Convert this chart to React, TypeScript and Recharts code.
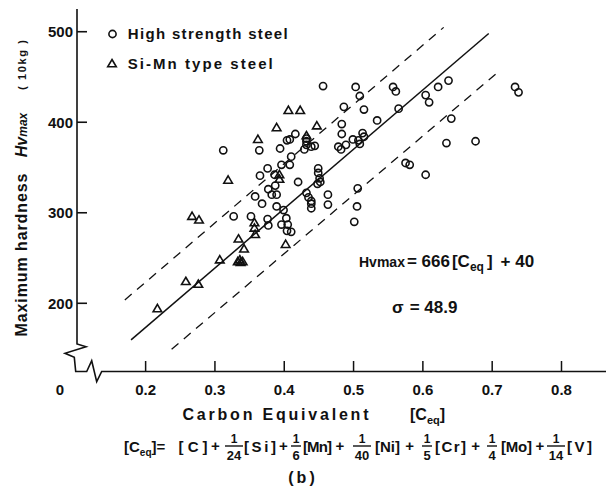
import React from 'react';
import { ScatterChart, Scatter, XAxis, YAxis } from 'recharts';

// tick values
const xTicks = [0.2, 0.3, 0.4, 0.5, 0.6, 0.7, 0.8];
const yTicks = [200, 300, 400, 500];

// High strength steel (circles)
const highCeq = [
  0.456, 0.503, 0.509, 0.557, 0.561, 0.515, 0.486, 0.534, 0.565, 0.604, 0.609, 0.622, 0.637, 0.641,
  0.733, 0.738, 0.634, 0.676, 0.575, 0.581, 0.604, 0.506, 0.505, 0.501, 0.463, 0.463,
  0.483, 0.483, 0.478, 0.482, 0.489, 0.499, 0.507, 0.509, 0.513, 0.515,
  0.432, 0.432, 0.432, 0.429, 0.439, 0.444,
  0.416, 0.408, 0.404, 0.394, 0.41, 0.408, 0.396, 0.364, 0.312,
  0.376, 0.365, 0.386, 0.42,
  0.449, 0.449, 0.451, 0.452, 0.448,
  0.432, 0.435, 0.439, 0.439, 0.439,
  0.377, 0.387, 0.382, 0.389, 0.358, 0.368, 0.389, 0.399, 0.403, 0.405, 0.396, 0.404, 0.41,
  0.376, 0.377, 0.352, 0.327,
];
const highHv = [
  440, 439, 429, 439, 434, 414, 417, 402, 415, 430, 422, 439, 446, 404,
  439, 433, 377, 379, 355, 353, 342, 327, 307, 290, 320, 309,
  398, 387, 373, 370, 375, 381, 380, 376, 388, 384,
  382, 379, 375, 370, 373, 374,
  387, 381, 380, 371, 362, 353, 353, 369, 369,
  349, 341, 342, 334,
  349, 344, 338, 334, 332,
  322, 317, 313, 310, 305,
  326, 330, 320, 320, 318, 310, 307, 303, 294, 287, 287, 280, 279,
  293, 286, 296, 296,
];

// Si-Mn type steel (triangles)
const siMnCeq = [
  0.217, 0.258, 0.276, 0.267, 0.277, 0.307, 0.334, 0.342, 0.333, 0.337, 0.34, 0.336,
  0.357, 0.357, 0.358, 0.402, 0.319, 0.362, 0.389, 0.406, 0.423, 0.447, 0.393, 0.393, 0.432,
];
const siMnHv = [
  194, 224, 221, 296, 292, 248, 271, 260, 246, 245, 246, 248,
  289, 283, 276, 265, 336, 381, 394, 413, 413, 396, 342, 337, 385,
];

// regression line and +/- sigma band, end points
const fitCeq = [0.179, 0.695];
const fitHv = [159.6, 498];
const upperCeq = [0.17, 0.63];
const upperHv = [203.7, 504.8];
const lowerCeq = [0.2375, 0.709];
const lowerHv = [149.2, 455.8];

const zip = (xs: number[], ys: number[]) => xs.map((x, i) => ({ x, y: ys[i] }));

const FONT = "'Liberation Sans', Arial, sans-serif";
const INK = '#111';

const CircleMark = (p: any) => (
  <circle cx={p.cx} cy={p.cy} r={3.6} fill="none" stroke={INK} strokeWidth={1.6} />
);
const TriangleMark = (p: any) => (
  <path
    d={`M${p.cx},${p.cy - 4.3} L${p.cx + 4.3},${p.cy + 3} L${p.cx - 4.3},${p.cy + 3} Z`}
    fill="none"
    stroke={INK}
    strokeWidth={1.6}
  />
);
const NoMark = () => <g />;

const XTick = (props: any) => {
  const { x, y, payload } = props;
  return (
    <g>
      <line x1={x} x2={x} y1={y} y2={y - 10} stroke={INK} strokeWidth={1.5} />
      <text x={x} y={y + 24} textAnchor="middle" fontSize={15} fontFamily={FONT} fontWeight={700} fill={INK}>
        {payload.value.toFixed(1)}
      </text>
    </g>
  );
};

const YTick = (props: any) => {
  const { x, y, payload } = props;
  return (
    <g>
      <line x1={x} x2={x + 10} y1={y} y2={y} stroke={INK} strokeWidth={1.6} />
      <text x={x - 4} y={y + 5.5} textAnchor="end" fontSize={15} fontFamily={FONT} fontWeight={700} fill={INK}>
        {payload.value}
      </text>
    </g>
  );
};

const Frac = ({ cx, num, den }: { cx: number; num: string; den: string }) => (
  <g>
    <text x={cx} y={443} textAnchor="middle" fontSize={12}>{num}</text>
    <line x1={cx - (den.length > 1 ? 9 : 5)} x2={cx + (den.length > 1 ? 9 : 5)} y1={446} y2={446} stroke={INK} strokeWidth={1.4} />
    <text x={cx} y={460} textAnchor="middle" fontSize={13}>{den}</text>
  </g>
);

export default function App() {
  const high = zip(highCeq, highHv);
  const siMn = zip(siMnCeq, siMnHv);
  const fit = zip(fitCeq, fitHv);
  const upper = zip(upperCeq, upperHv);
  const lower = zip(lowerCeq, lowerHv);

  return (
    <div style={{ position: 'absolute', left: 0, top: 0, width: 609, height: 488, background: '#fff' }}>
      <ScatterChart width={609} height={488} margin={{ top: 9, right: 3, bottom: 87, left: 0 }}>
        <XAxis
          type="number"
          dataKey="x"
          domain={[0.101, 0.8642]}
          ticks={xTicks}
          interval={0}
          allowDataOverflow
          axisLine={false}
          tickLine={false}
          tickSize={0}
          tickMargin={0}
          height={30}
          tick={XTick}
        />
        <XAxis
          xAxisId="top"
          orientation="top"
          type="number"
          domain={[0.101, 0.8642]}
          height={0}
          tick={false}
          tickLine={false}
          axisLine={{ stroke: INK, strokeWidth: 1.4 }}
        />
        <YAxis
          type="number"
          dataKey="y"
          domain={[125.2, 525.1]}
          ticks={yTicks}
          interval={0}
          allowDataOverflow
          axisLine={false}
          tickLine={false}
          tickSize={0}
          tickMargin={0}
          width={77}
          tick={YTick}
        />
        <YAxis
          yAxisId="right"
          orientation="right"
          type="number"
          domain={[125.2, 525.1]}
          width={0}
          tick={false}
          tickLine={false}
          axisLine={{ stroke: INK, strokeWidth: 2 }}
        />
        <Scatter data={upper} shape={NoMark} line={{ stroke: INK, strokeWidth: 1.3, strokeDasharray: '9 7' }} isAnimationActive={false} />
        <Scatter data={lower} shape={NoMark} line={{ stroke: INK, strokeWidth: 1.3, strokeDasharray: '9 7' }} isAnimationActive={false} />
        <Scatter data={fit} shape={NoMark} line={{ stroke: INK, strokeWidth: 1.5 }} isAnimationActive={false} />
        <Scatter name="High strength steel" data={high} shape={CircleMark} isAnimationActive={false} />
        <Scatter name="Si-Mn type steel" data={siMn} shape={TriangleMark} isAnimationActive={false} />
      </ScatterChart>

      <svg
        width={609}
        height={488}
        style={{ position: 'absolute', left: 0, top: 0, pointerEvents: 'none' }}
        fontFamily={FONT}
        fontWeight={700}
        fill={INK}
      >
        {/* left and bottom frame with axis breaks */}
        <path
          d="M77,9 L77,344 L86,346.7 L65,353.3 L74.3,357.3 L75.7,371.5 L86.7,371.5 L91.7,360.7 L96.7,381.7 L101.7,371.5 L606,371.5"
          fill="none"
          stroke={INK}
          strokeWidth={1.6}
          strokeLinejoin="miter"
        />
        <text x={60} y={395} textAnchor="middle" fontSize={15}>0</text>

        {/* legend */}
        <circle cx={112.5} cy={34} r={3.6} fill="none" stroke={INK} strokeWidth={1.6} />
        <text x={127.7} y={39} fontSize={15} textLength={160} lengthAdjust="spacing">High strength steel</text>
        <path d="M112,59.5 L116.3,66.8 L107.7,66.8 Z" fill="none" stroke={INK} strokeWidth={1.6} />
        <text x={127.7} y={68.5} fontSize={15} textLength={145} lengthAdjust="spacing">Si-Mn type steel</text>

        {/* y axis title */}
        <g transform="translate(27,255) rotate(-90)">
          <text x={0} y={0} textAnchor="middle" fontSize={16} textLength={163} lengthAdjust="spacing">Maximum hardness</text>
        </g>
        <g transform="translate(27,135) rotate(-90)">
          <text x={0} y={0} textAnchor="middle" fontStyle="italic" fontSize={16}>
            Hv<tspan fontSize={12}>max</tspan>
          </text>
        </g>
        <g transform="translate(26,65) rotate(-90)">
          <text x={0} y={0} textAnchor="middle" fontSize={11} textLength={50} lengthAdjust="spacing">( 10kg )</text>
        </g>

        {/* x axis title */}
        <text x={182.5} y={420} fontSize={16} textLength={186} lengthAdjust="spacing">Carbon Equivalent</text>
        <text x={410} y={420} fontSize={16}>
          [C<tspan fontSize={11} dy={4}>eq</tspan><tspan dy={-4}>]</tspan>
        </text>

        {/* regression equation */}
        <text x={359} y={267} fontSize={14}>
          Hvmax<tspan fontSize={17} dx={2}>= 666</tspan>
          <tspan fontSize={17} dx={2}>[C</tspan>
          <tspan fontSize={12} dy={4}>eq</tspan>
          <tspan fontSize={17} dy={-4} dx={3}>]</tspan>
          <tspan fontSize={17} dx={8}>+ 40</tspan>
        </text>
        <text x={392} y={313} fontSize={17}>σ<tspan dx={6}>= 48.9</tspan></text>

        {/* carbon equivalent formula */}
        <g fontSize={15}>
          <text x={124} y={452}>
            [C<tspan fontSize={10} dy={4}>eq</tspan><tspan dy={-4}>]=</tspan>
          </text>
          <text x={178.6} y={452} textLength={29} lengthAdjust="spacing">[C]</text>
          <text x={215.5} y={451} textAnchor="middle">+</text>
          <Frac cx={234} num="1" den="24" />
          <text x={244} y={452} textLength={32} lengthAdjust="spacing">[Si]</text>
          <text x={283.5} y={451} textAnchor="middle">+</text>
          <Frac cx={296} num="1" den="6" />
          <text x={303} y={452} textLength={29} lengthAdjust="spacing">[Mn]</text>
          <text x={340} y={451} textAnchor="middle">+</text>
          <Frac cx={362} num="1" den="40" />
          <text x={375} y={452} textLength={25} lengthAdjust="spacing">[Ni]</text>
          <text x={409.7} y={451} textAnchor="middle">+</text>
          <Frac cx={427} num="1" den="5" />
          <text x={435} y={452} textLength={31} lengthAdjust="spacing">[Cr]</text>
          <text x={475.7} y={451} textAnchor="middle">+</text>
          <Frac cx={492} num="1" den="4" />
          <text x={501} y={452} textLength={31} lengthAdjust="spacing">[Mo]</text>
          <text x={539.8} y={451} textAnchor="middle">+</text>
          <Frac cx={556} num="1" den="14" />
          <text x={567} y={452} textLength={25} lengthAdjust="spacing">[V]</text>
        </g>
        <text x={303} y={483} textAnchor="middle" fontSize={16} letterSpacing={3}>(b)</text>
      </svg>
    </div>
  );
}
